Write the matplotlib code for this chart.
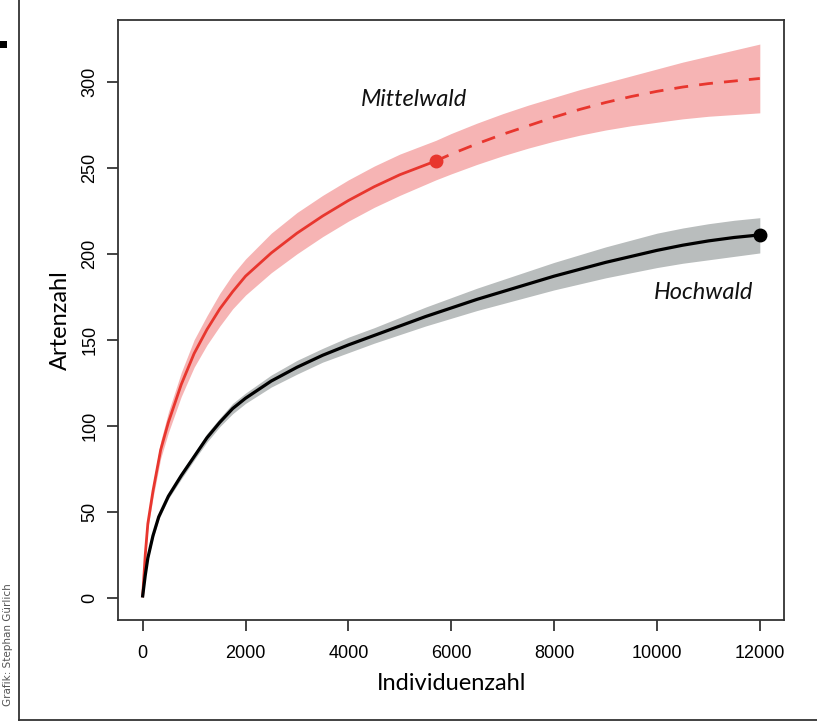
import numpy as np
import matplotlib.pyplot as plt
from matplotlib.lines import Line2D
from matplotlib.patches import Rectangle

# Mittelwald (observed part, solid)
mw_x = [0, 50, 100, 200, 350, 500, 750, 1000, 1250, 1500, 1750, 2000, 2500, 3000, 3500, 4000, 4500, 5000, 5700]
mw_y = [1, 25, 43, 62, 86, 102, 124, 142, 156, 168, 178, 187, 200.5, 212, 222, 231, 239, 246, 254]
# Mittelwald (extrapolated part, dashed)
mw_ext_x = [5700, 6000, 6500, 7000, 7500, 8000, 8500, 9000, 9500, 10000, 10500, 11000, 11500, 12000]
mw_ext_y = [254, 258, 264, 269.5, 274.5, 279.5, 284, 288, 291.5, 294.5, 297, 299, 300.5, 302]
# Mittelwald confidence band
mw_band_x = [0, 100, 200, 350, 500, 750, 1000, 1250, 1500, 1750, 2000, 2500, 3000, 3500, 4000, 4500,
             5000, 5700, 6000, 6500, 7000, 7500, 8000, 8500, 9000, 9500, 10000, 10500, 11000, 11500, 12000]
mw_lo = [0, 40, 58, 81, 96, 117, 134, 147, 158, 168, 176, 189, 200, 210, 219, 227,
         234, 243, 246.5, 252, 257, 261.5, 265.5, 269, 272, 274.5, 276.5, 278.5, 280, 281, 282]
mw_hi = [2, 46, 66, 91, 108, 131, 150, 164, 177, 188, 197, 212, 224, 234, 243, 251,
         258, 266, 270, 276, 281.5, 286.5, 291, 295.5, 299.5, 303.5, 307.5, 311.5, 315, 318.5, 322]

# Hochwald
hw_x = [0, 50, 100, 200, 312, 500, 750, 1000, 1250, 1500, 1750, 2000, 2500, 3000, 3500, 4000, 4500,
        5000, 5500, 6000, 6500, 7000, 7500, 8000, 8500, 9000, 9500, 10000, 10500, 11000, 11500, 12000]
hw_y = [1, 13, 23, 36, 47, 59, 71, 82, 93, 102, 110, 116, 126, 134, 141, 147, 152.5,
        158, 163.5, 168.5, 173.5, 178, 182.5, 187, 191, 195, 198.5, 202, 205, 207.5, 209.5, 211]
hw_lo = [0, 12, 22, 34.5, 45.5, 57.5, 69, 80, 90.5, 99.5, 107, 113, 122.5, 130, 137, 142.5, 148,
         153, 158, 162.5, 167, 171, 175, 179, 182.5, 186, 189, 192, 194.5, 196.5, 198.5, 200.5]
hw_hi = [2, 14, 24, 37.5, 48.5, 60.5, 73, 84, 95.5, 104.5, 113, 119, 129.5, 138, 145, 151.5, 157,
         163, 169, 174.5, 180, 185, 190, 195, 199.5, 204, 208, 212, 215, 217.5, 219.5, 221]

xticks = [0, 2000, 4000, 6000, 8000, 10000, 12000]
yticks = [0, 50, 100, 150, 200, 250, 300]

red = '#e8362e'
red_band = '#f6b4b4'
gray_band = '#b9bdbd'

fig = plt.figure(figsize=(8.17, 7.22), dpi=100)
ax = fig.add_axes([118 / 817, 102 / 722, 666.5 / 817, 600 / 722])

ax.fill_between(mw_band_x, mw_lo, mw_hi, color=red_band, lw=0)
ax.fill_between(hw_x, hw_lo, hw_hi, color=gray_band, lw=0)

ax.plot(mw_x, mw_y, color=red, lw=2)
ax.plot(mw_ext_x, mw_ext_y, color=red, lw=2, dashes=(5, 4))
ax.plot(hw_x, hw_y, color='black', lw=2.3)
ax.plot(mw_x[-1], mw_y[-1], 'o', color=red, ms=9)
ax.plot(hw_x[-1], hw_y[-1], 'o', color='black', ms=9)

ax.text(5280, 290, 'Mittelwald', fontsize=17, style='italic', family='Lato',
        color='#111111', ha='center', va='center')
ax.text(10900, 177.5, 'Hochwald', fontsize=17, style='italic', family='Lato',
        color='#111111', ha='center', va='center')

ax.set_xlim(-480, 12480)
ax.set_ylim(-13, 336)
ax.set_xticks(xticks)
ax.set_yticks(yticks)
ax.set_xticklabels([str(t) for t in xticks], family='Liberation Sans', fontsize=13)
ax.set_yticklabels([str(t) for t in yticks], family='Liberation Sans', fontsize=13,
                   rotation=90, va='center')
ax.tick_params(length=8, width=1.2, color='#222222', pad=6)
ax.tick_params(axis='x', pad=10)
for s in ax.spines.values():
    s.set_linewidth(1.3)
    s.set_color('#333333')

ax.set_xlabel('Individuenzahl', family='Lato', fontsize=17, labelpad=8)
ax.set_ylabel('Artenzahl', family='Lato', fontsize=17, labelpad=8)

# outer frame and page remnants
fig.add_artist(Line2D([18.5 / 817, 18.5 / 817], [2.5 / 722, 1.0], color='#333333', lw=1.3))
fig.add_artist(Line2D([18.5 / 817, 1.0], [2.5 / 722, 2.5 / 722], color='#333333', lw=1.3))
fig.add_artist(Rectangle((0, 674 / 722), 7 / 817, 7 / 722, color='black', lw=0))
fig.text(8 / 817, 77 / 722, 'Grafik: Stephan Gürlich', rotation=90, fontsize=7.5,
         color='#555555', ha='center', va='center')

fig.savefig('out.png', dpi=100)
